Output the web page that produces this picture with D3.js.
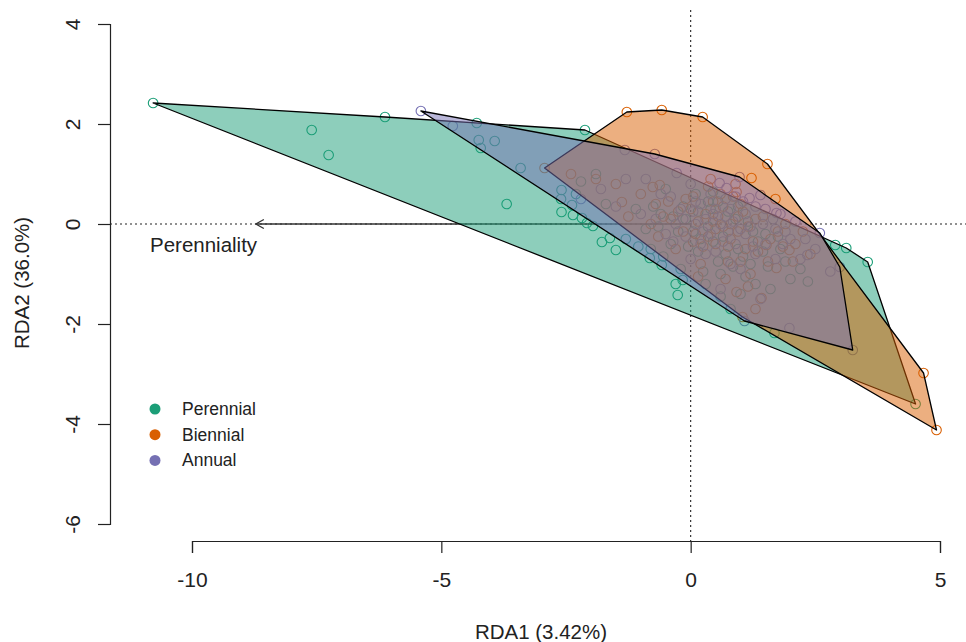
<!DOCTYPE html>
<html>
<head>
<meta charset="utf-8">
<script src="https://cdn.jsdelivr.net/npm/d3@7.9.0/dist/d3.min.js"></script>
<style>
  body { margin: 0; background: #fff; }
  svg { font-family: "Liberation Sans", Arial, Helvetica, sans-serif; }
</style>
</head>
<body>
<div id="chart"></div>
<script>
// --- Data (RDA1, RDA2 site scores) ---
const perennial = [
  [-10.78, 2.42], [-7.60, 1.88], [-7.26, 1.38], [-6.13, 2.14], [-4.29, 2.02],
  [-4.25, 1.68], [-4.21, 1.52], [-3.93, 1.66], [-3.69, 0.40], [-3.41, 1.12],
  [-2.12, 1.88], [-2.59, 0.68], [-2.59, 0.24], [-2.38, 0.38], [-2.36, 0.18],
  [-2.18, 0.12], [-2.08, 0.02], [-1.96, -0.04], [-1.78, -0.36], [-1.62, -0.28],
  [-1.50, -0.52], [-0.82, -0.68], [-0.58, -0.82], [-0.26, -1.42], [-0.16, -1.12],
  [1.68, -2.18], [3.55, -0.76], [4.51, -3.60], [2.90, -0.42], [3.12, -0.48],
  [-1.1, 0.3], [-0.9, -0.1], [-0.6, 0.2], [-0.4, -0.4], [-0.1, 0.1],
  [0.2, -0.3], [0.4, 0.3], [0.7, -0.6], [0.9, 0.1], [1.2, -0.8],
  [1.5, -0.2], [-1.3, -0.3], [-0.2, -0.9], [0.3, -1.2], [0.6, -1.0],
  [1.0, -1.4], [-0.8, -0.5], [0.1, 0.6], [-0.5, 0.7], [1.8, -0.5],
  [2.2, -0.9], [-2.6, 0.5], [-2.3, 0.6], [-1.7, 0.4], [-0.3, -1.2],
  [0.8, -1.7], [1.3, -1.2], [2.0, -1.1], [-1.9, 1.0], [-2.2, 0.85],
  [-0.05, -0.45], [0.35, -0.05], [0.55, 0.45], [0.85, -0.85], [1.15, 0.05],
  [1.45, -0.55], [1.75, -0.25], [-0.35, 0.15], [-0.75, 0.35], [0.15, 0.25],
  [0.65, -0.25], [1.05, -0.65], [0.25, -0.95], [-0.55, -0.65], [1.35, -0.35],
  [0.45, 0.65], [-1.05, -0.45], [0.95, 0.35], [1.6, -1.3], [2.35, -1.15],
  [0.05, -0.15], [0.45, -0.35], [0.75, 0.25], [1.25, -0.15], [-0.25, -0.15],
  [0.55, -0.75], [1.55, -0.85], [0.15, -0.55], [-0.65, -0.05], [0.95, -0.5],
  [1.9, -0.75], [0.35, 0.45], [-0.15, 0.35], [1.1, -1.05], [0.6, -1.45]
];
const biennial = [
  [-2.93, 1.12], [-1.28, 2.24], [-0.58, 2.28], [0.24, 2.14], [1.54, 1.20],
  [4.67, -2.98], [4.93, -4.12], [1.04, -1.86],
  [-0.76, 0.74], [-0.62, 0.78], [0.92, 0.64], [-1.38, 0.44], [1.22, 0.92],
  [0.92, -1.36], [1.42, -1.48], [1.30, -1.70], [1.72, -0.88], [1.52, -0.42],
  [1.98, -0.52],
  [-1.5, 0.8], [-1.0, 0.6], [-0.7, 0.4], [-0.4, 0.1], [-0.1, 0.5],
  [0.1, -0.2], [0.3, 0.2], [0.5, -0.4], [0.6, 0.6], [0.8, 0.0],
  [1.0, 0.4], [1.1, -0.5], [1.3, 0.1], [1.6, -0.3], [1.9, 0.0],
  [2.1, -0.4], [0.2, -0.8], [0.7, -1.1], [-0.3, -0.5], [-0.8, 0.0],
  [0.4, 0.9], [0.9, 0.8], [1.7, 0.5], [2.4, -0.6], [0.0, 0.3],
  [-1.9, 0.9], [-2.4, 1.0], [1.2, -1.0], [0.5, -0.1], [0.8, -0.3],
  [-0.15, -0.15], [0.05, 0.55], [0.25, -0.45], [0.45, 0.05], [0.65, 0.35],
  [0.75, -0.75], [0.95, -0.15], [1.05, 0.25], [1.25, -0.35], [1.45, 0.15],
  [1.55, -0.75], [1.85, -0.45], [-0.45, 0.45], [-0.65, -0.25], [0.35, 0.75],
  [0.85, 0.55], [1.15, -1.25], [-1.25, 0.15], [2.25, -0.15], [0.15, -1.05],
  [0.15, 0.05], [0.35, -0.25], [0.55, 0.15], [0.75, -0.45], [0.95, 0.15],
  [1.15, -0.05], [1.35, -0.55], [0.05, -0.35], [-0.25, 0.25], [0.65, -0.05],
  [1.75, -0.15], [2.05, -0.75], [0.45, 0.45], [-0.55, 0.15], [1.0, -0.75]
];
const annual = [
  [-5.41, 2.26], [-0.72, 1.40], [0.98, 0.94], [2.59, -0.18], [2.99, -0.86],
  [3.25, -2.52], [1.08, -1.94],
  [-4.77, 1.96], [-1.32, 1.48], [-0.28, 1.02], [0.58, 0.82], [0.72, 0.72],
  [1.40, 0.58], [1.18, 0.52], [1.72, 0.22], [2.34, -0.62], [2.80, -0.95],
  [1.98, -2.08],
  [-1.8, 0.7], [-1.3, 0.9], [-1.0, 0.2], [-0.6, 0.6], [-0.3, 0.0],
  [0.0, 0.8], [0.2, 0.4], [0.4, -0.2], [0.6, 0.0], [0.7, 0.5],
  [0.9, -0.4], [1.1, 0.2], [1.3, -0.6], [1.5, 0.3], [1.7, -0.1],
  [2.0, -0.3], [2.1, 0.05], [0.3, -0.6], [-0.5, -0.2], [0.1, 0.0],
  [0.5, 0.3], [1.0, -0.9], [1.4, -1.5], [0.6, -1.3], [-0.9, 0.9],
  [-2.2, 0.5], [2.5, -0.5], [1.8, 0.2], [-0.2, 0.3], [0.8, 0.3],
  [-0.1, -0.25], [0.1, 0.45], [0.3, 0.1], [0.5, -0.55], [0.7, 0.15],
  [0.9, 0.55], [1.1, -0.2], [1.3, 0.35], [1.5, -0.4], [1.7, -0.7],
  [1.9, -0.15], [-0.4, 0.55], [-0.7, 0.1], [0.2, -0.4], [0.4, 0.6],
  [0.8, -0.8], [1.2, -0.05], [-1.5, 0.35], [2.2, -0.7], [0.0, -0.7],
  [0.25, -0.15], [0.45, 0.2], [0.65, -0.35], [0.85, 0.05], [1.05, 0.45],
  [1.25, -0.45], [1.45, 0.0], [1.65, 0.1], [-0.15, 0.1], [0.05, 0.25],
  [0.75, -0.15], [1.0, -0.1], [-0.35, -0.35], [1.85, -0.4], [2.3, -0.3]
];

const groups = ["Perennial", "Biennial", "Annual"];
const groupData = [perennial, biennial, annual];
const colors = ["#1B9E77", "#D95F02", "#7570B3"];

const xTicks = [-10, -5, 0, 5];
const yTicks = [-6, -4, -2, 0, 2, 4];

// biplot arrow for the constraint (Perenniality)
const arrowEnd = [-8.72, 0];
const arrowLabel = "Perenniality";

// --- Layout ---
const W = 966, H = 642;
const x = d3.scaleLinear().domain([-10, 5]).range([192, 940]);
const y = d3.scaleLinear().domain([-6, 4]).range([524, 24]);
const plotLeft = 110, plotRight = 966, plotTop = 10, plotBottom = 541;

const svg = d3.select("#chart").append("svg").attr("width", W).attr("height", H);

// points first, hulls go on top of them
groupData.forEach((pts, i) => {
  svg.append("g")
    .selectAll("circle")
    .data(pts)
    .join("circle")
    .attr("cx", d => x(d[0]))
    .attr("cy", d => y(d[1]))
    .attr("r", 4.8)
    .attr("fill", "none")
    .attr("stroke", colors[i])
    .attr("stroke-width", 1.1);
});

// zero reference lines
svg.append("line")
  .attr("x1", plotLeft).attr("x2", plotRight)
  .attr("y1", y(0)).attr("y2", y(0))
  .attr("stroke", "#222").attr("stroke-width", 1.1)
  .attr("stroke-dasharray", "2,3");
svg.append("line")
  .attr("x1", x(0)).attr("x2", x(0))
  .attr("y1", plotTop).attr("y2", plotBottom)
  .attr("stroke", "#222").attr("stroke-width", 1.1)
  .attr("stroke-dasharray", "2,3");

// arrow
const ax = x(arrowEnd[0]), ay = y(arrowEnd[1]);
svg.append("line")
  .attr("x1", x(0)).attr("y1", y(0))
  .attr("x2", ax).attr("y2", ay)
  .attr("stroke", "#333").attr("stroke-width", 1.3);
svg.append("path")
  .attr("d", `M${ax + 8},${ay - 4.5}L${ax},${ay}L${ax + 8},${ay + 4.5}`)
  .attr("fill", "none").attr("stroke", "#333").attr("stroke-width", 1.3);
svg.append("text")
  .attr("x", 150).attr("y", 252)
  .attr("font-size", 20.5).attr("fill", "#222")
  .text(arrowLabel);

// convex hulls per group
groupData.forEach((pts, i) => {
  const hull = d3.polygonHull(pts.map(d => [x(d[0]), y(d[1])]));
  svg.append("path")
    .attr("d", "M" + hull.join("L") + "Z")
    .attr("fill", colors[i])
    .attr("fill-opacity", 0.5)
    .attr("stroke", "#000")
    .attr("stroke-width", 1.3)
    .attr("stroke-linejoin", "round");
});

// axes (plain hyphen minus like R)
const fmt = d => String(d);
const xAxis = svg.append("g")
  .attr("transform", `translate(0,${plotBottom})`)
  .call(d3.axisBottom(x).tickValues(xTicks).tickFormat(fmt).tickSizeOuter(0).tickSize(12));
xAxis.selectAll("text")
  .attr("y", 46).attr("dy", 0)
  .attr("font-size", 21).attr("fill", "#222");

const yAxis = svg.append("g")
  .attr("transform", `translate(${plotLeft},0)`)
  .call(d3.axisLeft(y).tickValues(yTicks).tickFormat(fmt).tickSizeOuter(0).tickSize(12));
yAxis.selectAll("text")
  .attr("transform", "rotate(-90)")
  .attr("x", 0).attr("y", -30).attr("dy", 0)
  .attr("text-anchor", "middle")
  .attr("font-size", 21).attr("fill", "#222");

[xAxis, yAxis].forEach(g => {
  g.selectAll("path, line").attr("stroke", "#222").attr("stroke-width", 1.2);
});

svg.append("text")
  .attr("x", 541).attr("y", 639)
  .attr("text-anchor", "middle")
  .attr("font-size", 20.5).attr("fill", "#222")
  .text("RDA1 (3.42%)");
svg.append("text")
  .attr("transform", `translate(29,${283}) rotate(-90)`)
  .attr("text-anchor", "middle")
  .attr("font-size", 20.5).attr("fill", "#222")
  .text("RDA2 (36.0%)");

// legend
const legend = svg.append("g").attr("transform", "translate(155,409)");
groups.forEach((g, i) => {
  legend.append("circle")
    .attr("cx", 0).attr("cy", i * 25.7)
    .attr("r", 5.5).attr("fill", colors[i]);
  legend.append("text")
    .attr("x", 27).attr("y", i * 25.7 + 6)
    .attr("font-size", 17.5).attr("fill", "#222")
    .text(g);
});
</script>
</body>
</html>
